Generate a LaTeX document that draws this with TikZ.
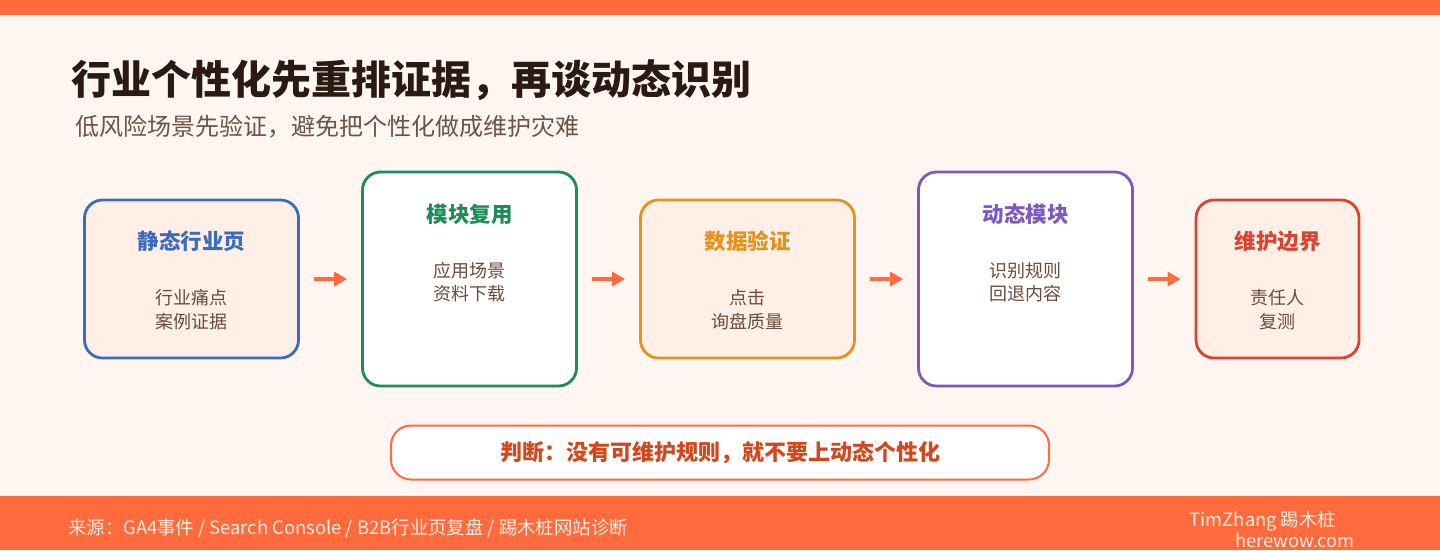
\documentclass[tikz,border=0pt]{standalone}
\usepackage{fontspec}
\setmainfont{Noto Sans CJK SC}
\usetikzlibrary{arrows.meta}
\definecolor{accent}{HTML}{FF6B3D}
\definecolor{bgc}{HTML}{FFF6F2}
\definecolor{peach}{HTML}{FFEFE7}
\definecolor{cblue}{HTML}{3A6BBF}
\definecolor{cgreen}{HTML}{1F8A5B}
\definecolor{corange}{HTML}{E3921F}
\definecolor{cpurple}{HTML}{7E57C2}
\definecolor{cred}{HTML}{D9432F}
\definecolor{bodyc}{HTML}{6B4C3B}
\definecolor{titlec}{HTML}{2B1A12}
\definecolor{subc}{HTML}{6B5445}
\definecolor{judgec}{HTML}{D4461B}
\definecolor{footc}{HTML}{FFEDE4}
\tikzset{
  card/.style={draw=#1, line width=2.8pt, rounded corners=18pt, minimum width=214pt, inner sep=0pt},
  cardtitle/.style={text=#1, font=\fontsize{21.5}{26}\selectfont\bfseries, inner sep=0pt},
  cardbody/.style={text=bodyc, font=\fontsize{18}{23.5}\selectfont, align=center, inner sep=0pt},
  flow/.style={draw=accent, line width=3.5pt, -{Triangle[length=13pt,width=14pt]}, shorten <=14pt, shorten >=14pt},
}
\begin{document}
\begin{tikzpicture}[x=1pt,y=-1pt]
\useasboundingbox (0,0) rectangle (1440,550);
\fill[bgc] (0,0) rectangle (1440,550);
\fill[accent] (0,0) rectangle (1440,15);
\fill[accent] (0,496) rectangle (1440,550);

\node[anchor=west, inner sep=0pt, text=titlec, font=\fontsize{40}{48}\selectfont\bfseries] (title) at (71,80) {行业个性化先重排证据，再谈动态识别};
\node[anchor=west, inner sep=0pt, text=subc, font=\fontsize{24}{28}\selectfont] (sub) at (75,127) {低风险场景先验证，避免把个性化做成维护灾难};

\node[card=cblue, fill=peach, minimum height=158pt] (b1) at (191.5,279) {};
\node[card=cgreen, fill=white, minimum height=214pt] (b2) at (469.5,279) {};
\node[card=corange, fill=peach, minimum height=158pt] (b3) at (747.5,279) {};
\node[card=cpurple, fill=white, minimum height=214pt] (b4) at (1025.5,279) {};
\node[card=cred, fill=peach, minimum height=158pt, minimum width=163pt] (b5) at (1277.5,279) {};

\node[cardtitle=cblue] (t1) at (191.5,241) {静态行业页};
\node[cardtitle=cgreen] (t2) at (469.5,214) {模块复用};
\node[cardtitle=corange] (t3) at (747.5,241) {数据验证};
\node[cardtitle=cpurple] (t4) at (1025.5,214) {动态模块};
\node[cardtitle=cred] (t5) at (1277.5,241) {维护边界};

\node[cardbody] (d1) at (191.5,309.5) {行业痛点\\案例证据};
\node[cardbody] (d2) at (469.5,282) {应用场景\\资料下载};
\node[cardbody] (d3) at (747.5,309.5) {点击\\询盘质量};
\node[cardbody] (d4) at (1025.5,282) {识别规则\\回退内容};
\node[cardbody] (d5) at (1277.5,309.5) {责任人\\复测};

\draw[flow] (b1.east) -- (b2.west);
\draw[flow] (b2.east) -- (b3.west);
\draw[flow] (b3.east) -- (b4.west);
\draw[flow] (b4.east) -- (b5.west);

\node[draw=accent, fill=white, line width=2pt, rounded corners=20pt, minimum width=658pt, minimum height=54pt, text=judgec, font=\fontsize{22}{26}\selectfont\bfseries] (judge) at (720,452.5) {判断：没有可维护规则，就不要上动态个性化};

\node[anchor=west, inner sep=0pt, text=footc, font=\fontsize{18.4}{22}\selectfont] (src) at (68,528) {来源：GA4事件 / Search Console / B2B行业页复盘 / 踢木桩网站诊断};
\node[anchor=east, inner sep=0pt, text=footc, font=\fontsize{18.3}{21}\selectfont] (brand) at (1336,521) {TimZhang 踢木桩};
\node[anchor=east, inner sep=0pt, text=footc, font=\fontsize{18.3}{21}\selectfont] (site) at (1355,540) {herewow.com};
\end{tikzpicture}
\end{document}
